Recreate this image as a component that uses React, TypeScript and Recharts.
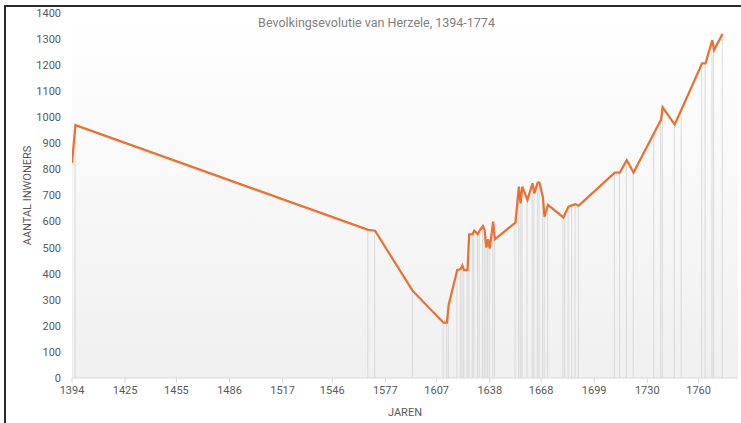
import { ComposedChart, Line, Bar, XAxis, YAxis, CartesianGrid, Label } from 'recharts';

const years = [
  1394, 1396, 1567, 1571, 1593, 1611, 1613, 1614, 1619, 1621, 1622, 1623, 1625, 1626,
  1628, 1629, 1631, 1632, 1634, 1635, 1636, 1637, 1638, 1640, 1641, 1653, 1655, 1656,
  1657, 1660, 1663, 1664, 1666, 1667, 1669, 1670, 1672, 1681, 1682, 1684, 1686, 1688,
  1690, 1711, 1714, 1718, 1722, 1734, 1738, 1739, 1746, 1750, 1762, 1764, 1768, 1769, 1774,
];

const inwoners = [
  825, 970, 568, 565, 334, 212, 212, 280, 414, 418, 431, 414, 414, 551,
  552, 565, 552, 564, 583, 568, 500, 532, 497, 600, 532, 596, 734, 670,
  734, 683, 747, 708, 749, 749, 695, 619, 664, 616, 630, 657, 662, 667,
  661, 788, 788, 836, 788, 940, 990, 1038, 972, 1030, 1207, 1207, 1296, 1258, 1320,
];

const xTicks = [1394, 1425, 1455, 1486, 1517, 1546, 1577, 1607, 1638, 1668, 1699, 1730, 1760];
const yTicks = [0, 100, 200, 300, 400, 500, 600, 700, 800, 900, 1000, 1100, 1200, 1300, 1400];

const data = years.map((jaar, i) => ({ jaar, inwoners: inwoners[i] }));

const font = 'Roboto, sans-serif';
const tickStyle = { fontSize: 11, fill: '#595959', fontFamily: font };

export default function App() {
  return (
    <div style={{ position: 'absolute', left: 0, top: 0, width: 741, height: 423, background: '#fff', overflow: 'hidden' }}>
      <div
        style={{
          position: 'absolute', left: 4, top: 5, width: 760, height: 440,
          borderLeft: '2px solid #2b2b2b', borderTop: '2px solid #2b2b2b',
        }}
      />
      <ComposedChart width={741} height={423} data={data} margin={{ top: 13, right: 3, bottom: 0, left: 0 }}>
        <defs>
          <linearGradient id="plotBg" x1="0" y1="0" x2="0" y2="1">
            <stop offset="0%" stopColor="#ffffff" />
            <stop offset="100%" stopColor="#f0f0f0" />
          </linearGradient>
        </defs>
        <CartesianGrid horizontal={false} vertical={false} fill="url(#plotBg)" />
        <XAxis
          dataKey="jaar"
          type="number"
          domain={[1394, 1783]}
          ticks={xTicks}
          interval={0}
          height={45}
          tick={tickStyle}
          tickSize={5}
          tickMargin={3}
          stroke="#d9d9d9"
          allowDataOverflow
        >
          <Label
            value="JAREN"
            position="insideBottom"
            offset={7}
            style={{ fontSize: 11, fill: '#595959', fontFamily: font }}
          />
        </XAxis>
        <YAxis
          type="number"
          domain={[0, 1400]}
          ticks={yTicks}
          interval={0}
          width={72}
          axisLine={false}
          tickLine={false}
          tickSize={0}
          tickMargin={11}
          tick={tickStyle}
        >
          <Label
            content={({ viewBox }: any) => {
              const cx = viewBox.x + 27;
              const cy = viewBox.y + viewBox.height / 2;
              return (
                <text
                  x={cx}
                  y={cy}
                  transform={`rotate(-90 ${cx} ${cy})`}
                  textAnchor="middle"
                  dominantBaseline="central"
                  fontSize={11}
                  fill="#595959"
                  fontFamily={font}
                >
                  AANTAL INWONERS
                </text>
              );
            }}
          />
        </YAxis>
        <Bar dataKey="inwoners" barSize={1} fill="#d9d9d9" isAnimationActive={false} />
        <Line
          type="linear"
          dataKey="inwoners"
          stroke="#e97132"
          strokeWidth={2.25}
          dot={false}
          activeDot={false}
          isAnimationActive={false}
        />
      </ComposedChart>
      <div
        style={{
          position: 'absolute', left: 0, width: 741, top: 15, textAlign: 'center',
          fontFamily: font, fontSize: 12.5, color: '#808080', paddingLeft: 6,
        }}
      >
        Bevolkingsevolutie van Herzele, 1394-1774
      </div>
    </div>
  );
}
